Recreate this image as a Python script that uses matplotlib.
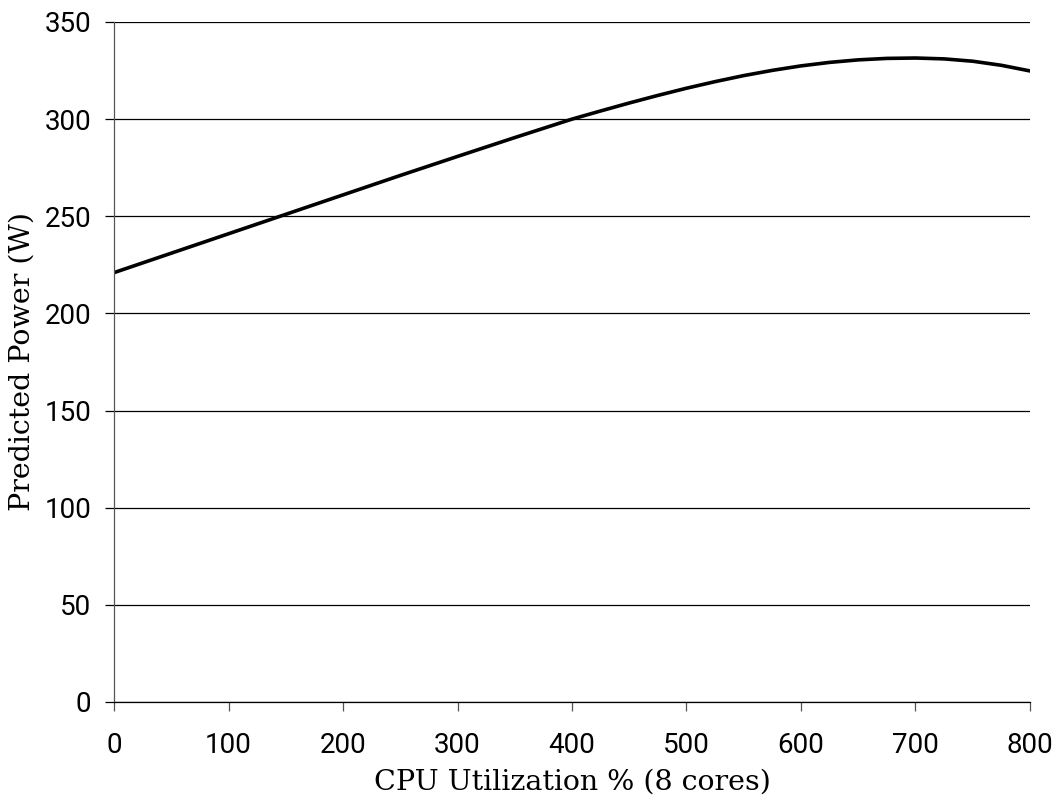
import matplotlib
matplotlib.use("Agg")
import matplotlib.pyplot as plt

# CPU utilisation (8 cores) and predicted power
cpu_util = [0, 50, 100, 150, 200, 250, 300, 350, 400, 425, 450, 475, 500, 525, 550,
            575, 600, 625, 650, 675, 700, 725, 750, 775, 800]
power_w = [221, 231, 241, 251, 261, 271, 280.8, 290.5, 300, 304.2, 308.3, 312.2, 315.9,
           319.3, 322.4, 325.1, 327.4, 329.2, 330.5, 331.25, 331.45, 331.0, 329.8, 327.7, 324.8]

x_ticks = [0, 100, 200, 300, 400, 500, 600, 700, 800]
y_ticks = [0, 50, 100, 150, 200, 250, 300, 350]

tick_font = ["Roboto", "DejaVu Sans"]
label_font = ["DejaVu Serif"]

fig = plt.figure(figsize=(10.58, 8.02), dpi=100)
ax = fig.add_axes([0.1078, 0.1247, 0.8657, 0.8479])

ax.plot(cpu_util, power_w, color="black", lw=2.6, solid_joinstyle="round")

ax.set_xlim(0, 800)
ax.set_ylim(0, 350)
ax.set_xticks(x_ticks)
ax.set_yticks(y_ticks)
ax.yaxis.grid(True, color="black", lw=0.9)
ax.set_axisbelow(True)

for s in ["top", "right"]:
    ax.spines[s].set_visible(False)
ax.spines["left"].set_color("#555555")
ax.spines["left"].set_linewidth(0.9)
ax.spines["bottom"].set_color("black")
ax.spines["bottom"].set_linewidth(0.9)

ax.tick_params(axis="x", length=6.5, width=0.9, color="#555555", pad=15)
ax.tick_params(axis="y", length=6.5, width=0.9, color="black", pad=10)
for lab in ax.get_xticklabels() + ax.get_yticklabels():
    lab.set_fontfamily(tick_font)
    lab.set_fontsize(20)

ax.set_xlabel("CPU Utilization % (8 cores)", fontfamily=label_font, fontsize=20.5, labelpad=7)
ax.set_ylabel("Predicted Power (W)", fontfamily=label_font, fontsize=20.5, labelpad=6)

fig.savefig("out.png", dpi=100)
